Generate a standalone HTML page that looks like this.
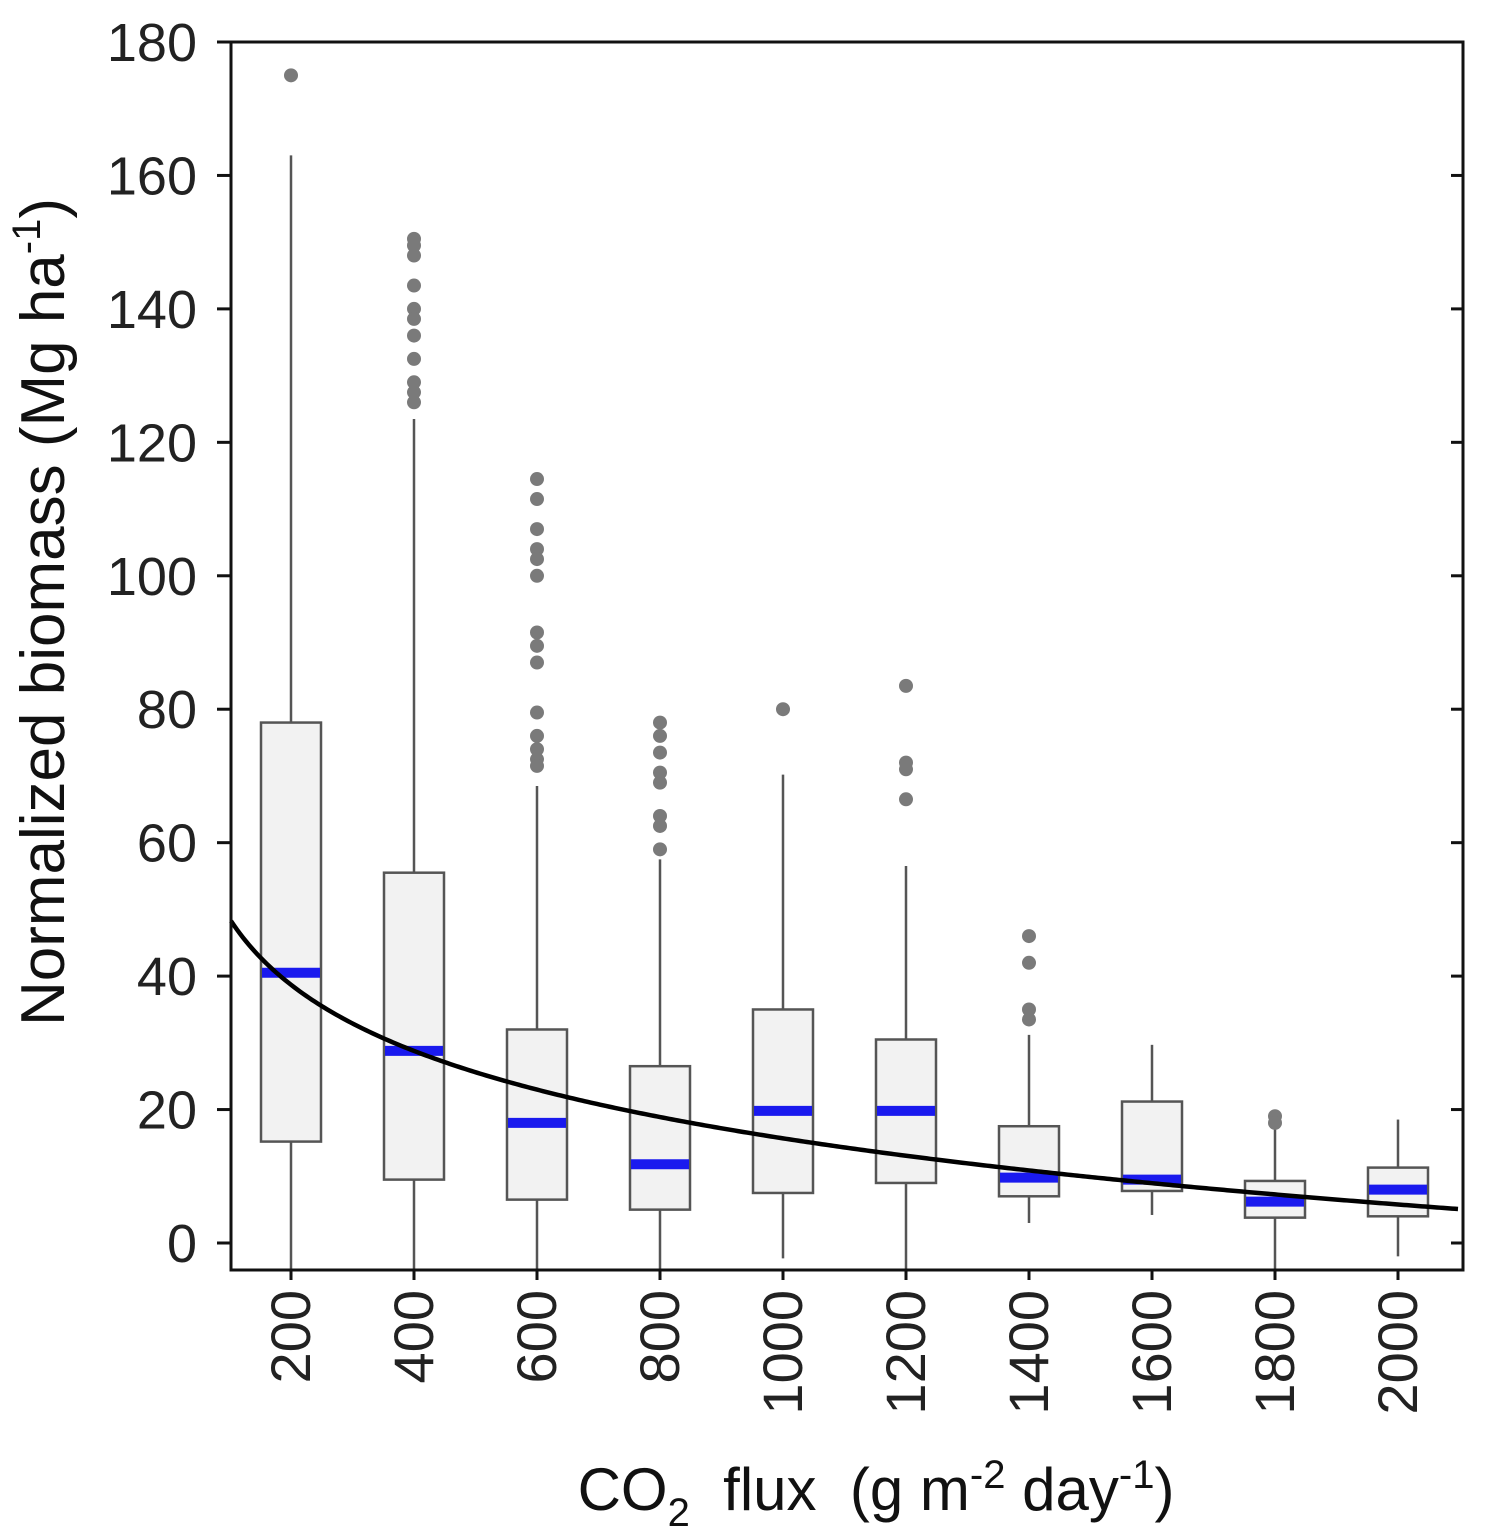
<!DOCTYPE html>
<html><head><meta charset="utf-8"><style>
html,body{margin:0;padding:0;background:#fff;}
svg{display:block;font-family:"Liberation Sans",sans-serif;}
text{white-space:pre;}
</style></head><body>
<svg id="chart" width="1491" height="1535" viewBox="0 0 1491 1535" xmlns="http://www.w3.org/2000/svg">
<g id="plot"></g>
<text transform="translate(64,612) rotate(-90)" text-anchor="middle" font-size="62" fill="#111">Normalized biomass (Mg ha<tspan dy="-24" font-size="40">-1</tspan><tspan dy="24">)</tspan></text>
<text x="876" y="1510" text-anchor="middle" font-size="60" fill="#111">CO<tspan dy="16" font-size="40">2</tspan><tspan dy="-16">  flux  (g m</tspan><tspan dy="-22" font-size="40">-2</tspan><tspan dy="22"> day</tspan><tspan dy="-22" font-size="40">-1</tspan><tspan dy="22">)</tspan></text>
</svg>
<script>
const categories=[200,400,600,800,1000,1200,1400,1600,1800,2000];
const whiskerLow=[-4,-4,-4,-4,-2.3,-4,3,4.2,-4,-2];
const q1=[15.2,9.5,6.5,5,7.5,9,7,7.8,3.8,4];
const medians=[40.5,28.8,18,11.8,19.8,19.8,9.8,9.5,6.2,8];
const q3=[78,55.5,32,26.5,35,30.5,17.5,21.2,9.3,11.3];
const whiskerHigh=[163,123.5,68.5,57.5,70.2,56.5,31.2,29.7,18,18.5];
const outliers=[[175],[150.5,149.5,148,143.5,140,138.5,136,132.5,129,127.5,126],[114.5,111.5,107,104,102.5,100,91.5,89.5,87,79.5,76,74,72.5,71.5],[78,76,73.5,70.5,69,64,62.5,59],[80],[83.5,72,71,66.5],[46,42,35,33.5],[],[19,18],[]];
const yTicks=[0,20,40,60,80,100,120,140,160,180];
const fitA=38.7, fitB=14.3;
const L=231,R=1463,T=42,B=1270;
const ns="http://www.w3.org/2000/svg";
const g=document.getElementById('plot');
function y(v){return 1243-v*(1201/180);}
function x(c){return 291+(c-200)/200*123;}
function mk(t,a,p){const e=document.createElementNS(ns,t);for(const k in a)e.setAttribute(k,a[k]);(p||g).appendChild(e);return e;}
categories.forEach((c,i)=>{
  const cx=x(c),w=30;
  const wl=mk('line',{x1:cx,x2:cx,y1:Math.min(y(whiskerLow[i]),B),y2:y(q1[i]),stroke:'#555','stroke-width':2.5});
  
  const wh=mk('line',{x1:cx,x2:cx,y1:y(q3[i]),y2:y(whiskerHigh[i]),stroke:'#555','stroke-width':2.5});
  
  const bx=mk('rect',{x:cx-w,y:y(q3[i]),width:2*w,height:y(q1[i])-y(q3[i]),fill:'#f2f2f2',stroke:'#555','stroke-width':2.5});
  
  const md=mk('line',{x1:cx-w+1,x2:cx+w-1,y1:y(medians[i]),y2:y(medians[i]),stroke:'#1a1aee','stroke-width':10});
  
  outliers[i].forEach(v=>{
    const o=mk('circle',{cx:cx,cy:y(v),r:7,fill:'#7a7a7a'});
    
  });
});
let d='';
for(let px=L;px<=R-3;px+=3){const f=200+(px-291)/123*200;const v=fitA-fitB*Math.log(f/200);d+=(d?'L':'M')+px+','+y(v);}
const cv=mk('path',{d:d,fill:'none',stroke:'#000','stroke-width':4.5});

const fr=mk('rect',{x:L,y:T,width:R-L,height:B-T,fill:'none',stroke:'#111','stroke-width':3});

yTicks.forEach(v=>{
  mk('line',{x1:L-14,x2:L,y1:y(v),y2:y(v),stroke:'#111','stroke-width':3});
  mk('line',{x1:R-12,x2:R,y1:y(v),y2:y(v),stroke:'#111','stroke-width':3});
  const t=mk('text',{x:197,y:y(v)+19,'text-anchor':'end','font-size':54,fill:'#222'});
  t.textContent=v;
  
});
categories.forEach(c=>{
  const cx=x(c);
  mk('line',{x1:cx,x2:cx,y1:B,y2:B+10,stroke:'#111','stroke-width':3});
  const t=mk('text',{transform:'translate('+(cx+19)+',1290) rotate(-90)','text-anchor':'end','font-size':56,fill:'#222'});
  t.textContent=c;
  
});
</script>
</body></html>
